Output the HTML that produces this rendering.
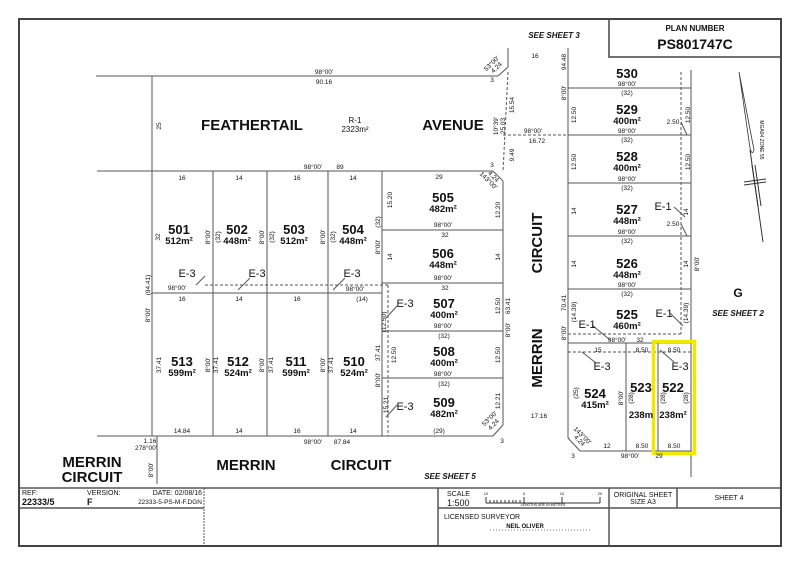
<!DOCTYPE html>
<html><head><meta charset="utf-8"><style>
html,body{margin:0;padding:0;background:#fff}
svg{display:block}
text{font-family:"Liberation Sans",Arial,sans-serif;fill:#111}
.s{font-size:6.5px}
.n{font-size:13px;font-weight:bold}
.a{font-size:9.5px;font-weight:bold}
.r{font-size:15px;font-weight:bold}
.e{font-size:11px}
.t{font-size:7px}
</style></head><body>
<svg width="800" height="565" viewBox="0 0 800 565" xmlns="http://www.w3.org/2000/svg">
<g fill="none" stroke="#555" stroke-width="1">
<rect x="19" y="19" width="762" height="527" stroke="#444" stroke-width="2"/>
<rect x="609" y="19" width="172" height="38" stroke="#444" stroke-width="1.5"/>
<line x1="19" y1="488" x2="781" y2="488" stroke-width="1.5"/>
<line x1="19" y1="508" x2="204" y2="508" stroke-width="1.5"/>
<line x1="438" y1="508" x2="781" y2="508" stroke-width="1.5"/>
<line x1="204" y1="488" x2="204" y2="546" stroke-dasharray="2,1"/>
<line x1="438" y1="488" x2="438" y2="546" stroke-width="1.5"/>
<line x1="609" y1="488" x2="609" y2="546" stroke-width="1.5"/>
<line x1="677" y1="488" x2="677" y2="508" stroke-width="1.5"/>
<line x1="96" y1="76" x2="498" y2="76"/>
<line x1="498" y1="76" x2="508" y2="67"/>
<line x1="508" y1="67" x2="508" y2="48"/>
<line x1="97" y1="171" x2="493" y2="171"/>
<line x1="152" y1="76" x2="152" y2="436"/>
<line x1="508" y1="72" x2="503" y2="172" stroke-dasharray="3,2"/>
<line x1="503" y1="135" x2="568" y2="135" stroke-dasharray="3,2"/>
<line x1="213" y1="171" x2="213" y2="436"/>
<line x1="267" y1="171" x2="267" y2="436"/>
<line x1="328" y1="171" x2="328" y2="436"/>
<line x1="382" y1="171" x2="382" y2="436"/>
<line x1="152" y1="293" x2="382" y2="293"/>
<line x1="205" y1="285" x2="388" y2="285" stroke-dasharray="3,2"/>
<line x1="388" y1="285" x2="388" y2="436" stroke-dasharray="3,2"/>
<line x1="97" y1="436" x2="493" y2="436"/>
<line x1="157" y1="436" x2="157" y2="484"/>
<line x1="493" y1="171" x2="503" y2="181"/>
<line x1="503" y1="181" x2="503" y2="425"/>
<line x1="503" y1="425" x2="493" y2="436"/>
<line x1="382" y1="230" x2="503" y2="230"/>
<line x1="382" y1="283" x2="503" y2="283"/>
<line x1="382" y1="331" x2="503" y2="331"/>
<line x1="382" y1="378" x2="503" y2="378"/>
<line x1="568" y1="48" x2="568" y2="438"/>
<line x1="568" y1="438" x2="580" y2="451"/>
<line x1="580" y1="451" x2="691" y2="451"/>
<line x1="691" y1="70" x2="691" y2="477"/>
<line x1="681" y1="72" x2="681" y2="334" stroke-dasharray="3,2"/>
<line x1="568" y1="88" x2="691" y2="88"/>
<line x1="568" y1="135" x2="691" y2="135"/>
<line x1="568" y1="183" x2="691" y2="183"/>
<line x1="568" y1="236" x2="691" y2="236"/>
<line x1="568" y1="289" x2="691" y2="289"/>
<line x1="568" y1="343" x2="691" y2="343"/>
<line x1="568" y1="334" x2="681" y2="334" stroke-dasharray="3,2"/>
<line x1="568" y1="352" x2="691" y2="352" stroke-dasharray="3,2"/>
<line x1="626" y1="343" x2="626" y2="451"/>
<line x1="658" y1="343" x2="658" y2="451"/>
<line x1="196" y1="285" x2="205" y2="276"/>
<line x1="238" y1="290" x2="250" y2="278"/>
<line x1="333" y1="290" x2="345" y2="278"/>
<line x1="386" y1="318" x2="397" y2="306"/>
<line x1="386" y1="417" x2="397" y2="405"/>
<line x1="592" y1="325" x2="610" y2="340"/>
<line x1="670" y1="313" x2="683" y2="326"/>
<line x1="674" y1="207" x2="685" y2="217"/>
<line x1="582" y1="352" x2="596" y2="363"/>
<line x1="660" y1="350" x2="674" y2="362"/>
<line x1="681" y1="122" x2="687" y2="135"/>
<line x1="681" y1="224" x2="687" y2="236"/>
<path d="M739 72 L750 148 Q752 156 754 150 Z" stroke="#333" stroke-width="0.8"/>
<line x1="750" y1="150" x2="763" y2="242" stroke="#333"/>
<line x1="744" y1="182" x2="766" y2="179" stroke="#333"/>
<line x1="744" y1="185" x2="766" y2="182" stroke="#333"/>
<line x1="752" y1="165" x2="758" y2="206" stroke="#333"/>
<line x1="755" y1="165" x2="761" y2="206" stroke="#333"/>
<line x1="486" y1="503" x2="600" y2="503" stroke="#333"/>
<line x1="486" y1="497" x2="486" y2="503" stroke="#333"/>
<line x1="524" y1="497" x2="524" y2="503" stroke="#333"/>
<line x1="562" y1="497" x2="562" y2="503" stroke="#333"/>
<line x1="600" y1="497" x2="600" y2="503" stroke="#333"/>
<line x1="497" y1="500" x2="497" y2="503" stroke="#333"/>
<line x1="505" y1="500" x2="505" y2="503" stroke="#333"/>
<line x1="513" y1="500" x2="513" y2="503" stroke="#333"/>
<line x1="490" y1="500" x2="490" y2="503" stroke="#333"/>
<line x1="520" y1="500" x2="520" y2="503" stroke="#333"/>
<line x1="494" y1="500" x2="494" y2="503" stroke="#333"/>
<line x1="501" y1="500" x2="501" y2="503" stroke="#333"/>
<line x1="509" y1="500" x2="509" y2="503" stroke="#333"/>
<line x1="516" y1="500" x2="516" y2="503" stroke="#333"/>
<line x1="490" y1="530" x2="590" y2="530" stroke="#777" stroke-dasharray="1,2"/>
<rect x="653.5" y="341.5" width="41" height="112" stroke="#f0e800" stroke-width="3.5"/>
</g>
<text x="695" y="31" font-weight="bold" text-anchor="middle" font-size="8">PLAN NUMBER</text>
<text x="695" y="49" text-anchor="middle" font-size="14" font-weight="bold">PS801747C</text>
<text x="554" y="38" text-anchor="middle" font-size="8" font-weight="bold" font-style="italic">SEE SHEET 3</text>
<text x="738" y="316" text-anchor="middle" font-size="8" font-weight="bold" font-style="italic">SEE SHEET 2</text>
<text x="738" y="297" text-anchor="middle" font-size="12" font-weight="bold">G</text>
<text x="450" y="479" text-anchor="middle" font-size="8" font-weight="bold" font-style="italic">SEE SHEET 5</text>
<text x="22" y="495" class="t">REF:</text>
<text x="22" y="505" font-size="9" font-weight="bold">22333/5</text>
<text x="87" y="495" class="t">VERSION:</text>
<text x="87" y="505" font-size="9" font-weight="bold">F</text>
<text x="202" y="495" class="t" text-anchor="end">DATE: 02/08/16</text>
<text x="202" y="504" font-size="6.5" text-anchor="end">22333-5-PS-M-F.DGN</text>
<text x="447" y="496" class="t">SCALE</text>
<text x="447" y="506" font-size="9">1:500</text>
<text x="543" y="506" font-size="3.5" text-anchor="middle">LENGTHS ARE IN METRES</text>
<text x="486" y="495" font-size="4" text-anchor="middle">10</text>
<text x="524" y="495" font-size="4" text-anchor="middle">0</text>
<text x="562" y="495" font-size="4" text-anchor="middle">10</text>
<text x="600" y="495" font-size="4" text-anchor="middle">20</text>
<text x="643" y="497" class="t" text-anchor="middle">ORIGINAL SHEET</text>
<text x="643" y="504" class="t" text-anchor="middle">SIZE   A3</text>
<text x="729" y="500" class="t" text-anchor="middle">SHEET 4</text>
<text x="444" y="519" class="t">LICENSED SURVEYOR</text>
<text x="525" y="528" font-size="6" font-weight="bold" text-anchor="middle">NEIL OLIVER</text>
<text x="252" y="130" class="r" text-anchor="middle">FEATHERTAIL</text>
<text x="453" y="130" class="r" text-anchor="middle">AVENUE</text>
<text x="355" y="123" font-size="8" text-anchor="middle">R-1</text>
<text x="355" y="132" font-size="8" text-anchor="middle">2323m²</text>
<text x="92" y="467" class="r" text-anchor="middle">MERRIN</text>
<text x="92" y="482" class="r" text-anchor="middle">CIRCUIT</text>
<text x="246" y="470" class="r" text-anchor="middle">MERRIN</text>
<text x="361" y="470" class="r" text-anchor="middle">CIRCUIT</text>
<text transform="translate(542,243) rotate(-90)" class="r" text-anchor="middle">CIRCUIT</text>
<text transform="translate(542,358) rotate(-90)" class="r" text-anchor="middle">MERRIN</text>
<g text-anchor="middle">
<text x="179" y="234" class="n">501</text><text x="179" y="244" class="a">512m²</text>
<text x="237" y="234" class="n">502</text><text x="237" y="244" class="a">448m²</text>
<text x="294" y="234" class="n">503</text><text x="294" y="244" class="a">512m²</text>
<text x="353" y="234" class="n">504</text><text x="353" y="244" class="a">448m²</text>
<text x="182" y="366" class="n">513</text><text x="182" y="376" class="a">599m²</text>
<text x="238" y="366" class="n">512</text><text x="238" y="376" class="a">524m²</text>
<text x="296" y="366" class="n">511</text><text x="296" y="376" class="a">599m²</text>
<text x="354" y="366" class="n">510</text><text x="354" y="376" class="a">524m²</text>
<text x="443" y="202" class="n">505</text><text x="443" y="212" class="a">482m²</text>
<text x="443" y="258" class="n">506</text><text x="443" y="268" class="a">448m²</text>
<text x="444" y="308" class="n">507</text><text x="444" y="318" class="a">400m²</text>
<text x="444" y="356" class="n">508</text><text x="444" y="366" class="a">400m²</text>
<text x="444" y="407" class="n">509</text><text x="444" y="417" class="a">482m²</text>
<text x="627" y="78" class="n">530</text>
<text x="627" y="114" class="n">529</text><text x="627" y="124" class="a">400m²</text>
<text x="627" y="161" class="n">528</text><text x="627" y="171" class="a">400m²</text>
<text x="627" y="214" class="n">527</text><text x="627" y="224" class="a">448m²</text>
<text x="627" y="268" class="n">526</text><text x="627" y="278" class="a">448m²</text>
<text x="627" y="319" class="n">525</text><text x="627" y="329" class="a">460m²</text>
<text x="595" y="398" class="n">524</text><text x="595" y="408" class="a">415m²</text>
<text x="641" y="392" class="n">523</text><text x="641" y="418" class="a">238m</text>
<text x="673" y="392" class="n">522</text><text x="673" y="418" class="a">238m²</text>
</g>
<g class="e" text-anchor="middle">
<text x="187" y="277">E-3</text><text x="257" y="277">E-3</text><text x="352" y="277">E-3</text>
<text x="405" y="307">E-3</text><text x="405" y="410">E-3</text>
<text x="587" y="328">E-1</text><text x="664" y="317">E-1</text><text x="663" y="210">E-1</text>
<text x="602" y="370">E-3</text><text x="680" y="370">E-3</text>
</g>
<g class="s" text-anchor="middle">
<text x="324" y="74">98°00'</text><text x="324" y="84">90.16</text>
<text x="313" y="169">98°00'</text><text x="340" y="169">89</text>
<text x="182" y="180">16</text><text x="239" y="180">14</text><text x="297" y="180">16</text><text x="353" y="180">14</text>
<text x="182" y="301">16</text><text x="239" y="301">14</text><text x="297" y="301">16</text><text x="362" y="301">(14)</text>
<text x="182" y="433">14.84</text><text x="239" y="433">14</text><text x="297" y="433">16</text><text x="353" y="433">14</text>
<text x="313" y="444">98°00'</text><text x="342" y="444">87.84</text>
<text x="150" y="443">1.16</text><text x="146" y="450">278°00'</text>
<text x="177" y="290">98°00'</text><text x="355" y="291">98°00'</text>
<text x="439" y="179">29</text><text x="443" y="227">98°00'</text>
<text x="445" y="237">32</text><text x="443" y="280">98°00'</text>
<text x="445" y="290">32</text><text x="443" y="328">98°00'</text>
<text x="444" y="338">(32)</text><text x="443" y="376">98°00'</text>
<text x="444" y="386">(32)</text><text x="439" y="433">(29)</text>
<text x="535" y="58">16</text><text x="533" y="133">98°00'</text><text x="537" y="143">16.72</text>
<text x="627" y="86">98°00'</text><text x="627" y="95">(32)</text>
<text x="627" y="133">98°00'</text><text x="627" y="142">(32)</text>
<text x="627" y="181">98°00'</text><text x="627" y="190">(32)</text>
<text x="627" y="234">98°00'</text><text x="627" y="243">(32)</text>
<text x="627" y="287">98°00'</text><text x="627" y="296">(32)</text>
<text x="617" y="342">98°00'</text><text x="640" y="342">32</text>
<text x="598" y="352">15</text><text x="642" y="352">8.50</text><text x="674" y="352">8.50</text>
<text x="607" y="448">12</text><text x="642" y="448">8.50</text><text x="674" y="448">8.50</text>
<text x="630" y="458">98°00'</text><text x="659" y="458">29</text>
<text x="539" y="418">17.16</text>
<text x="673" y="124">2.50</text><text x="673" y="226">2.50</text>
<text x="492" y="82">3</text><text x="492" y="167">3</text><text x="502" y="443">3</text><text x="573" y="458">3</text>
</g>
<g class="s" text-anchor="middle">
<text transform="translate(161,126) rotate(-90)">25</text>
<text transform="translate(160,237) rotate(-90)">32</text>
<text transform="translate(150,285) rotate(-90)">(94.41)</text>
<text transform="translate(150,315) rotate(-90)">8°00'</text>
<text transform="translate(161,365) rotate(-90)">37.41</text>
<text transform="translate(218,365) rotate(-90)">37.41</text>
<text transform="translate(273,365) rotate(-90)">37.41</text>
<text transform="translate(333,365) rotate(-90)">37.41</text>
<text transform="translate(210,365) rotate(-90)">8°00'</text>
<text transform="translate(264,365) rotate(-90)">8°00'</text>
<text transform="translate(325,365) rotate(-90)">8°00'</text>
<text transform="translate(210,237) rotate(-90)">8°00'</text>
<text transform="translate(264,237) rotate(-90)">8°00'</text>
<text transform="translate(325,237) rotate(-90)">8°00'</text>
<text transform="translate(220,237) rotate(-90)">(32)</text>
<text transform="translate(274,237) rotate(-90)">(32)</text>
<text transform="translate(335,237) rotate(-90)">(32)</text>
<text transform="translate(380,222) rotate(-90)">(32)</text>
<text transform="translate(380,247) rotate(-90)">8°00'</text>
<text transform="translate(153,470) rotate(-90)">8°00'</text>
<text transform="translate(392,200) rotate(-90)">15.20</text>
<text transform="translate(392,257) rotate(-90)">14</text>
<text transform="translate(386,322) rotate(-90)">(12.50)</text>
<text transform="translate(396,355) rotate(-90)">12.50</text>
<text transform="translate(380,353) rotate(-90)">37.41</text>
<text transform="translate(380,380) rotate(-90)">8°00'</text>
<text transform="translate(388,405) rotate(-90)">15.21</text>
<text transform="translate(500,210) rotate(-90)">12.20</text>
<text transform="translate(500,257) rotate(-90)">14</text>
<text transform="translate(500,306) rotate(-90)">12.50</text>
<text transform="translate(510,306) rotate(-90)">63.41</text>
<text transform="translate(510,330) rotate(-90)">8°00'</text>
<text transform="translate(500,355) rotate(-90)">12.50</text>
<text transform="translate(500,401) rotate(-90)">12.21</text>
<text transform="translate(514,105) rotate(-90)">15.54</text>
<text transform="translate(498,126) rotate(-90)">10°39'</text>
<text transform="translate(505,126) rotate(-90)">25.03</text>
<text transform="translate(514,155) rotate(-90)">9.49</text>
<text transform="translate(566,62) rotate(-90)">94.48</text>
<text transform="translate(566,93) rotate(-90)">8°00'</text>
<text transform="translate(576,115) rotate(-90)">12.50</text>
<text transform="translate(576,162) rotate(-90)">12.50</text>
<text transform="translate(576,211) rotate(-90)">14</text>
<text transform="translate(576,264) rotate(-90)">14</text>
<text transform="translate(566,303) rotate(-90)">70.41</text>
<text transform="translate(566,333) rotate(-90)">8°00'</text>
<text transform="translate(576,312) rotate(-90)">(14.39)</text>
<text transform="translate(690,115) rotate(-90)">12.50</text>
<text transform="translate(690,162) rotate(-90)">12.50</text>
<text transform="translate(688,212) rotate(-90)">14</text>
<text transform="translate(688,264) rotate(-90)">14</text>
<text transform="translate(699,264) rotate(-90)">8°00'</text>
<text transform="translate(688,313) rotate(-90)">(14.39)</text>
<text transform="translate(578,393) rotate(-90)">(25)</text>
<text transform="translate(623,398) rotate(-90)">8°00'</text>
<text transform="translate(633,398) rotate(-90)">(28)</text>
<text transform="translate(665,398) rotate(-90)">(28)</text>
<text transform="translate(688,398) rotate(-90)">(28)</text>
<text transform="translate(760,140) rotate(90)" font-size="5">MGA94 ZONE 55</text>
<text transform="translate(493,65) rotate(-45)">53°00'</text>
<text transform="translate(498,69) rotate(-45)">4.24</text>
<text transform="translate(492,178) rotate(45)">4.24</text>
<text transform="translate(487,182) rotate(45)">143°00'</text>
<text transform="translate(491,420) rotate(-45)">53°00'</text>
<text transform="translate(495,426) rotate(-45)">4.24</text>
<text transform="translate(581,437) rotate(45)">143°00'</text>
<text transform="translate(578,442) rotate(45)">4.24</text>
</g>
</svg>
</body></html>
